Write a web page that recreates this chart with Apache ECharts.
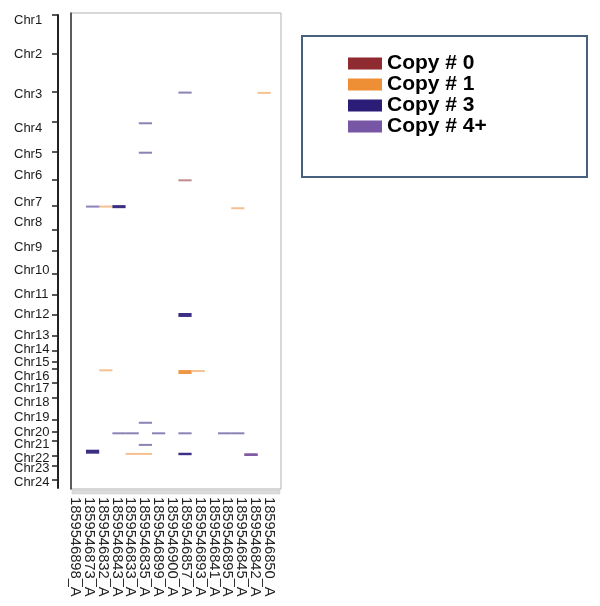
<!DOCTYPE html>
<html>
<head>
<meta charset="utf-8">
<script src="https://cdn.jsdelivr.net/npm/echarts@6/dist/echarts.min.js"></script>
<style>html,body{margin:0;padding:0;background:#fff}#c{width:600px;height:606px}</style>
</head>
<body>
<div id="c"></div>
<script>
// Chromosome tick labels and genomic positions (Mb, cumulative)
const chromosomes = ['Chr1','Chr2','Chr3','Chr4','Chr5','Chr6','Chr7','Chr8','Chr9','Chr10','Chr11','Chr12',
  'Chr13','Chr14','Chr15','Chr16','Chr17','Chr18','Chr19','Chr20','Chr21','Chr22','Chr23','Chr24'];
const tickPositions = [0,256,501,699,896,1077,1247,1409,1547,1697,1832,1966,2100,2202,2274,2320,2412,2510,2654,2733,2792,2890,2956,3047];
const labelPositions = [33,256,518,741,911,1049,1226,1357,1520,1675,1829,1963,2100,2189,2274,2366,2445,2536,2635,2733,2812,2904,2969,3061];
const genomeMax = 3100;

// Samples (x categories)
const samples = ['1859546898_A','1859546873_A','1859546832_A','1859546843_A','1859546833_A','1859546835_A',
  '1859546899_A','1859546900_A','1859546857_A','1859546893_A','1859546841_A','1859546895_A','1859546845_A',
  '1859546842_A','1859546850_A'];

// Segments: [sampleIndex, start (Mb), length (Mb)]
const copy0 = [[8,1077,13],[13,2877,12]];
const copy1 = [[14,504,13],[2,1249,13],[12,1260,13],[2,2322,13],[8,2327,26],[9,2327,13],[4,2870,13],[5,2870,13]];
const copy3 = [[8,502,13],[5,703,13],[5,896,13],[1,1249,13],[3,1246,20],[8,1953,26],[5,2666,13],
  [3,2735,13],[4,2735,13],[6,2735,13],[8,2735,13],[11,2735,13],[12,2735,13],[5,2811,13],[1,2849,26],[8,2869,16]];
const copy4 = [[13,2872,18]];

const seriesNames = ['Copy # 0','Copy # 1','Copy # 3','Copy # 4+'];
const seriesColors = ['#8e2a30','#ee8e35','#2b1c78','#7856a6'];
const seriesData = [copy0, copy1, copy3, copy4];

const font = "'Liberation Sans', Arial, sans-serif";

function renderSeg(params, api) {
  const s = api.value(0), start = api.value(1), len = api.value(2);
  const p0 = api.coord([s, start]);
  const p1 = api.coord([s + 1, start + len]);
  const h = Math.max(p1[1] - p0[1], 2);
  return {
    type: 'rect',
    shape: { x: p0[0], y: p0[1], width: p1[0] - p0[0], height: h },
    style: { fill: api.visual('color'), opacity: len >= 16 ? 0.92 : 0.55 }
  };
}

const chart = echarts.init(document.getElementById('c'), null, { renderer: 'canvas' });
chart.setOption({
  animation: false,
  backgroundColor: '#fff',
  grid: [
    { left: 71, top: 13, width: 210, height: 476, show: true, borderColor: '#b0b0b0', borderWidth: 1, backgroundColor: 'transparent' },
    { left: 58, top: 15, width: 10, height: 473 },
    { left: 72.8, top: 15, width: 198, height: 473 },
    { left: 68.1, top: 15, width: 207.9, height: 473 }
  ],
  xAxis: [
    { gridIndex: 0, type: 'value', show: false, min: 0, max: 1 },
    { gridIndex: 1, type: 'value', show: false, min: 0, max: 1 },
    { gridIndex: 2, type: 'value', show: false, min: 0, max: 15 },
    { gridIndex: 3, type: 'category', data: samples, position: 'bottom',
      axisLine: { show: false }, axisTick: { show: false },
      axisLabel: { rotate: -90, interval: 0, margin: 9, fontSize: 14.7, color: '#222', fontFamily: font } }
  ],
  yAxis: [
    { gridIndex: 0, type: 'value', position: 'right', min: 0, max: 1, splitLine: { show: false },
      axisLabel: { show: false }, axisTick: { show: false },
      axisLine: { show: true, lineStyle: { color: '#333', width: 1.5 } } },
    { gridIndex: 1, type: 'value', inverse: true, min: 0, max: genomeMax, position: 'left',
      splitLine: { show: false },
      axisLine: { show: true, lineStyle: { color: '#222', width: 2 } },
      axisTick: { show: true, length: 6, lineStyle: { color: '#222', width: 1.5 }, customValues: tickPositions },
      axisLabel: { show: true, margin: 44, align: 'left', fontSize: 13, color: '#1a1a1a', fontFamily: font,
        customValues: labelPositions,
        formatter: v => chromosomes[labelPositions.indexOf(v)] } },
    { gridIndex: 2, type: 'value', inverse: true, min: 0, max: genomeMax, show: false },
    { gridIndex: 3, type: 'value', show: false, min: 0, max: 1 }
  ],
  legend: {
    data: seriesNames, orient: 'vertical', left: 348, top: 53, padding: 0,
    icon: 'rect', itemWidth: 34, itemHeight: 12, itemGap: 0,
    textStyle: { fontSize: 21, fontWeight: 'bold', color: '#000', fontFamily: font, lineHeight: 20.4 }
  },
  graphic: [
    { type: 'rect', z: 0, shape: { x: 302, y: 36, width: 285, height: 141 },
      style: { fill: 'none', stroke: '#46607e', lineWidth: 2 } },
    { type: 'rect', z: 1, shape: { x: 72, y: 490, width: 208, height: 4 },
      style: { fill: '#dcdcdc', stroke: '#c8c8c8', lineWidth: 0.5 } }
  ],
  series: seriesData.map((d, i) => ({
    type: 'custom', name: seriesNames[i], xAxisIndex: 2, yAxisIndex: 2,
    itemStyle: { color: seriesColors[i] },
    encode: { x: 0, y: 1 },
    renderItem: renderSeg,
    data: d
  }))
});
</script>
</body>
</html>
